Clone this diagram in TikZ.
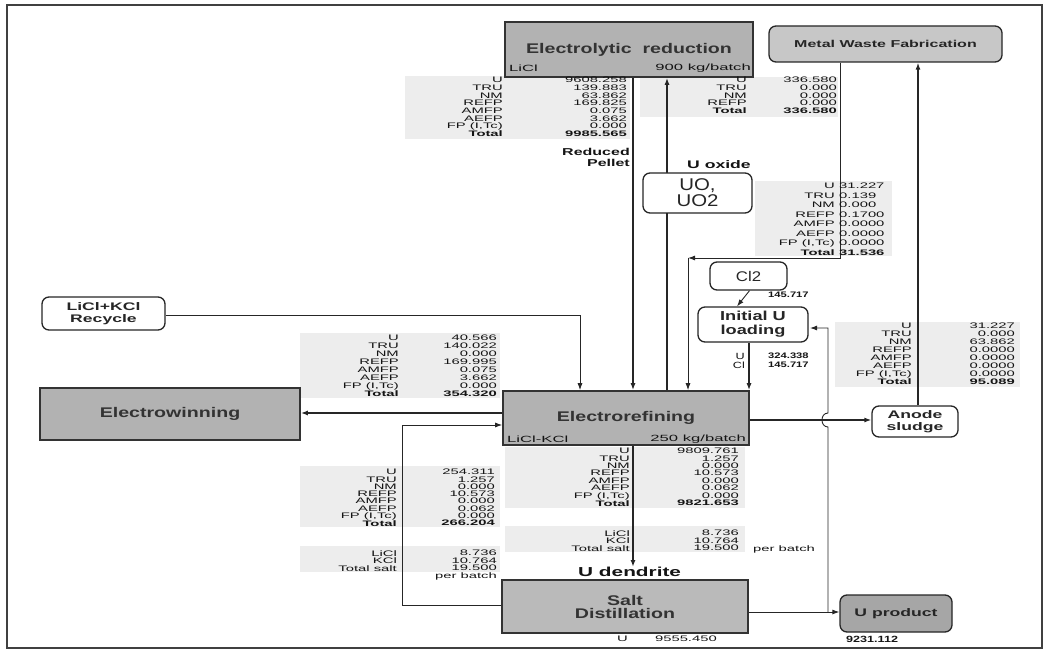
\documentclass[tikz,border=0pt]{standalone}
\usepackage{fontspec}
\setmainfont{Liberation Sans}
\newfontfamily\tabfont[FakeStretch=1.85]{Liberation Sans}
\newfontfamily\ttlfont[FakeStretch=1.4]{Liberation Sans}
\newfontfamily\lblfont[FakeStretch=1.6]{Liberation Sans}
\newfontfamily\bigfont[FakeStretch=1.2]{Liberation Sans}
\usetikzlibrary{arrows.meta}
\begin{document}
\begin{tikzpicture}[x=1pt,y=-1pt,
  txt/.style={text=black!92, inner sep=0pt},
  tab/.style={txt, font=\tabfont\fontsize{8}{7.7}\selectfont, align=right, anchor=north east},
  tabw/.style={txt, font=\tabfont\fontsize{8}{7.7}\selectfont, align=left, anchor=north west},
  gbox/.style={draw=black!80, line width=1.6pt, fill=black!30, inner sep=0pt, text=black!80,
     font=\ttlfont\bfseries\fontsize{14}{13}\selectfont, align=center},
  rbox/.style={draw=black!85, line width=1.3pt, rounded corners=7pt, fill=white, inner sep=0pt,
     text=black!85, align=center},
  bg/.style={fill=black!7},
  arr/.style={-{Latex[length=7pt,width=5pt]}},
  thn/.style={line width=0.9pt, black!85},
  mid/.style={line width=1.3pt, black!85},
  thk/.style={line width=1.8pt, black!85},
  vthk/.style={line width=2.8pt, black!85},
]
\useasboundingbox (0,0) rectangle (1051,660);
\draw[line width=1.6pt, black!75] (7,5) rectangle (1042,648);

% table backgrounds
\fill[bg] (405,76) rectangle (630,139);
\fill[bg] (640,77) rectangle (838,117);
\fill[bg] (755,181) rectangle (892,256);
\fill[bg] (300,333) rectangle (500,398);
\fill[bg] (300,466) rectangle (500,527);
\fill[bg] (300,546) rectangle (500,572);
\fill[bg] (505,447) rectangle (745,508);
\fill[bg] (505,526) rectangle (745,552);
\fill[bg] (835,322) rectangle (1020,387);

% boxes
\node[gbox, minimum width=248pt, minimum height=55pt] (exr) at (629,49.5) {Electrolytic\ \ reduction};
\node[rbox, fill=black!22, minimum width=233pt, minimum height=36pt, font=\lblfont\bfseries\fontsize{10}{12}\selectfont] (mwf) at (885.5,44) {Metal Waste Fabrication};
\node[gbox, minimum width=260pt, minimum height=52pt] (ew) at (170,414) {Electrowinning};
\node[gbox, minimum width=246pt, minimum height=54pt] (er) at (626,418) {Electrorefining};
\node[gbox, minimum width=246pt, minimum height=53pt, fill=black!27] (sd) at (625,606.5) {Salt\\Distillation};
\node[rbox, fill=black!35, minimum width=112pt, minimum height=37pt, font=\lblfont\bfseries\fontsize{11}{12}\selectfont] (up) at (896,613.5) {U product};
\node[rbox, minimum width=123pt, minimum height=33pt, font=\lblfont\bfseries\fontsize{11}{12}\selectfont] (rec) at (103.5,313.5) {LiCl+KCl\\Recycle};
\node[rbox, minimum width=86pt, minimum height=31pt, font=\lblfont\bfseries\fontsize{11}{12}\selectfont] (an) at (915,421.5) {Anode\\sludge};

% coordinates for connector routes
\coordinate (cA) at (633,100);
\coordinate (cB) at (667,100);
\coordinate (cC) at (840,258);
\coordinate (cD) at (688,258);
\coordinate (cE) at (580,315);
\coordinate (cF) at (402,425);
\coordinate (cK) at (402,605);
\coordinate (cG) at (828,328);
\coordinate (cH) at (918,100);
\coordinate (cI) at (749,100);
\coordinate (cJ) at (100,413);
\coordinate (cM) at (100,420);
\coordinate (cN) at (100,612);
\coordinate (cO) at (828,612);
\coordinate (cP) at (828,427);
\coordinate (cQ) at (828,413);

% U dendrite label (arrow target)
\node[txt, anchor=north west, font=\lblfont\bfseries\fontsize{13}{14}\selectfont] (ud) at (578,567) {U dendrite};

% connectors
\draw[thk,arr] (exr.south -| cA) -- (er.north -| cA);
\draw[thk,arr] (er.north -| cB) -- (exr.south -| cB);
\draw[thn,arr] (mwf.south -| cC) -- (cC) -- (cD);
\draw[thn,arr] (cD) -- (er.north -| cD);
\draw[thn,arr] (rec.east |- cE) -- (cE) -- (er.north -| cE);
\draw[thk,arr] (er.west |- cJ) -- (ew.east |- cJ);
\draw[thn,arr] (sd.west |- cK) -- (cK) -- (cF) -- (er.west |- cF);
\draw[vthk,arr] (er.south -| cA) -- (ud.north -| cA);
\draw[mid,arr] (er.east |- cM) -- (an.west |- cM);
\draw[thk,arr] (an.north -| cH) -- (mwf.south -| cH);
\draw[thn,arr] (sd.east |- cN) -- (up.west |- cN);
\draw[thn,arr] (cO) -- (cP) .. controls (820,427) and (820,413) .. (cQ) -- (cG) -- (cG -| 810,0);

% boxes drawn over lines
\node[rbox, minimum width=109pt, minimum height=40pt, font=\bigfont\fontsize{17}{16}\selectfont] (uo) at (697.5,193) {UO,\\UO2};
\node[rbox, minimum width=77pt, minimum height=28pt, font=\bigfont\fontsize{14}{14}\selectfont] (cl) at (748.5,276) {Cl2};
\node[rbox, minimum width=110pt, minimum height=35pt, font=\ttlfont\bfseries\fontsize{13}{14}\selectfont] (iul) at (753,324.5) {Initial U\\loading};
\draw[thn,arr] ([xshift=1pt]cl.south) -- ([xshift=-16pt]iul.north);
\draw[mid,arr] (iul.south -| cI) -- (er.north -| cI);

% texts inside boxes
\node[txt, anchor=west, font=\tabfont\fontsize{9}{10}\selectfont] (exrl) at (509,68) {LiCl};
\node[txt, anchor=east, font=\tabfont\fontsize{9}{10}\selectfont] (exrr) at (751,68) {900 kg/batch};
\node[txt, anchor=west, font=\tabfont\fontsize{9}{10}\selectfont] (erl) at (507,439) {LiCl-KCl};
\node[txt, anchor=east, font=\tabfont\fontsize{9}{10}\selectfont] (err) at (746,439) {250 kg/batch};

% table 1
\node[tab] (t1l) at (503,77) {U\\TRU\\NM\\REFP\\AMFP\\AEFP\\FP (I,Tc)\\\textbf{Total}};
\node[tab] (t1v) at (627,77) {9608.258\\139.883\\63.862\\169.825\\0.075\\3.662\\0.000\\\textbf{9985.565}};
% table 2
\node[tab] (t2l) at (747,77) {U\\TRU\\NM\\REFP\\\textbf{Total}};
\node[tab] (t2v) at (837,77) {336.580\\0.000\\0.000\\0.000\\\textbf{336.580}};
% table 3
\node[tab, font=\tabfont\fontsize{8}{9.5}\selectfont] (t3l) at (835,183) {U\\TRU\\NM\\REFP\\AMFP\\AEFP\\FP (I,Tc)\\\textbf{Total}};
\node[tabw, font=\tabfont\fontsize{8}{9.5}\selectfont] (t3v) at (839,183) {31.227\\0.139\\0.000\\0.1700\\0.0000\\0.0000\\0.0000\\\textbf{31.536}};
% table 4
\node[tab, font=\tabfont\fontsize{8}{8}\selectfont] (t4l) at (399,335) {U\\TRU\\NM\\REFP\\AMFP\\AEFP\\FP (I,Tc)\\\textbf{Total}};
\node[tab, font=\tabfont\fontsize{8}{8}\selectfont] (t4v) at (497,335) {40.566\\140.022\\0.000\\169.995\\0.075\\3.662\\0.000\\\textbf{354.320}};
% table 5
\node[tab, font=\tabfont\fontsize{8}{7.3}\selectfont] (t5l) at (397,469) {U\\TRU\\NM\\REFP\\AMFP\\AEFP\\FP (I,Tc)\\\textbf{Total}};
\node[tab, font=\tabfont\fontsize{8}{7.3}\selectfont] (t5v) at (495,469) {254.311\\1.257\\0.000\\10.573\\0.000\\0.062\\0.000\\\textbf{266.204}};
\node[tab, font=\tabfont\fontsize{8}{7.6}\selectfont] (t5sl) at (397,550) {LiCl\\KCl\\Total salt};
\node[tab, font=\tabfont\fontsize{8}{7.6}\selectfont] (t5sv) at (497,550) {8.736\\10.764\\19.500\\per batch};
% table 6
\node[tab, font=\tabfont\fontsize{8}{7.4}\selectfont] (t6l) at (630,448) {U\\TRU\\NM\\REFP\\AMFP\\AEFP\\FP (I,Tc)\\\textbf{Total}};
\node[tab, font=\tabfont\fontsize{8}{7.4}\selectfont] (t6v) at (739,448) {9809.761\\1.257\\0.000\\10.573\\0.000\\0.062\\0.000\\\textbf{9821.653}};
\node[tab, font=\tabfont\fontsize{8}{7.6}\selectfont] (t6sl) at (630,530) {LiCl\\KCl\\Total salt};
\node[tab, font=\tabfont\fontsize{8}{7.6}\selectfont] (t6sv) at (739,530) {8.736\\10.764\\19.500};
\node[tabw] (t6pb) at (753,545) {per batch};
% table 7
\node[tab, font=\tabfont\fontsize{8}{8}\selectfont] (t7l) at (912,323) {U\\TRU\\NM\\REFP\\AMFP\\AEFP\\FP (I,Tc)\\\textbf{Total}};
\node[tab, font=\tabfont\fontsize{8}{8}\selectfont] (t7v) at (1015,323) {31.227\\0.000\\63.862\\0.0000\\0.0000\\0.0000\\0.0000\\\textbf{95.089}};

% flow labels
\node[txt, anchor=north east, align=right, font=\lblfont\bfseries\fontsize{10}{11.5}\selectfont] (rp) at (630,148) {Reduced\\Pellet};
\node[txt, anchor=north west, font=\lblfont\bfseries\fontsize{11}{12}\selectfont] (uox) at (687,160) {U oxide};
\node[txt, anchor=north west, font=\ttlfont\bfseries\fontsize{8}{9}\selectfont] (clv) at (768,292) {145.717};
\node[txt, anchor=north east, align=right, font=\ttlfont\fontsize{9}{9}\selectfont] (iull) at (745,353) {U\\Cl};
\node[txt, anchor=north west, align=left, font=\ttlfont\bfseries\fontsize{8}{9}\selectfont] (iulv) at (768,353) {324.338\\145.717};
\node[txt, anchor=north west, font=\tabfont\fontsize{8}{9}\selectfont] (sdu) at (617,636) {U};
\node[txt, anchor=north east, font=\tabfont\fontsize{8}{9}\selectfont] (sdv) at (717,636) {9555.450};
\node[txt, anchor=north west, font=\ttlfont\bfseries\fontsize{9}{10}\selectfont] (upv) at (846,636) {9231.112};
\end{tikzpicture}
\end{document}
